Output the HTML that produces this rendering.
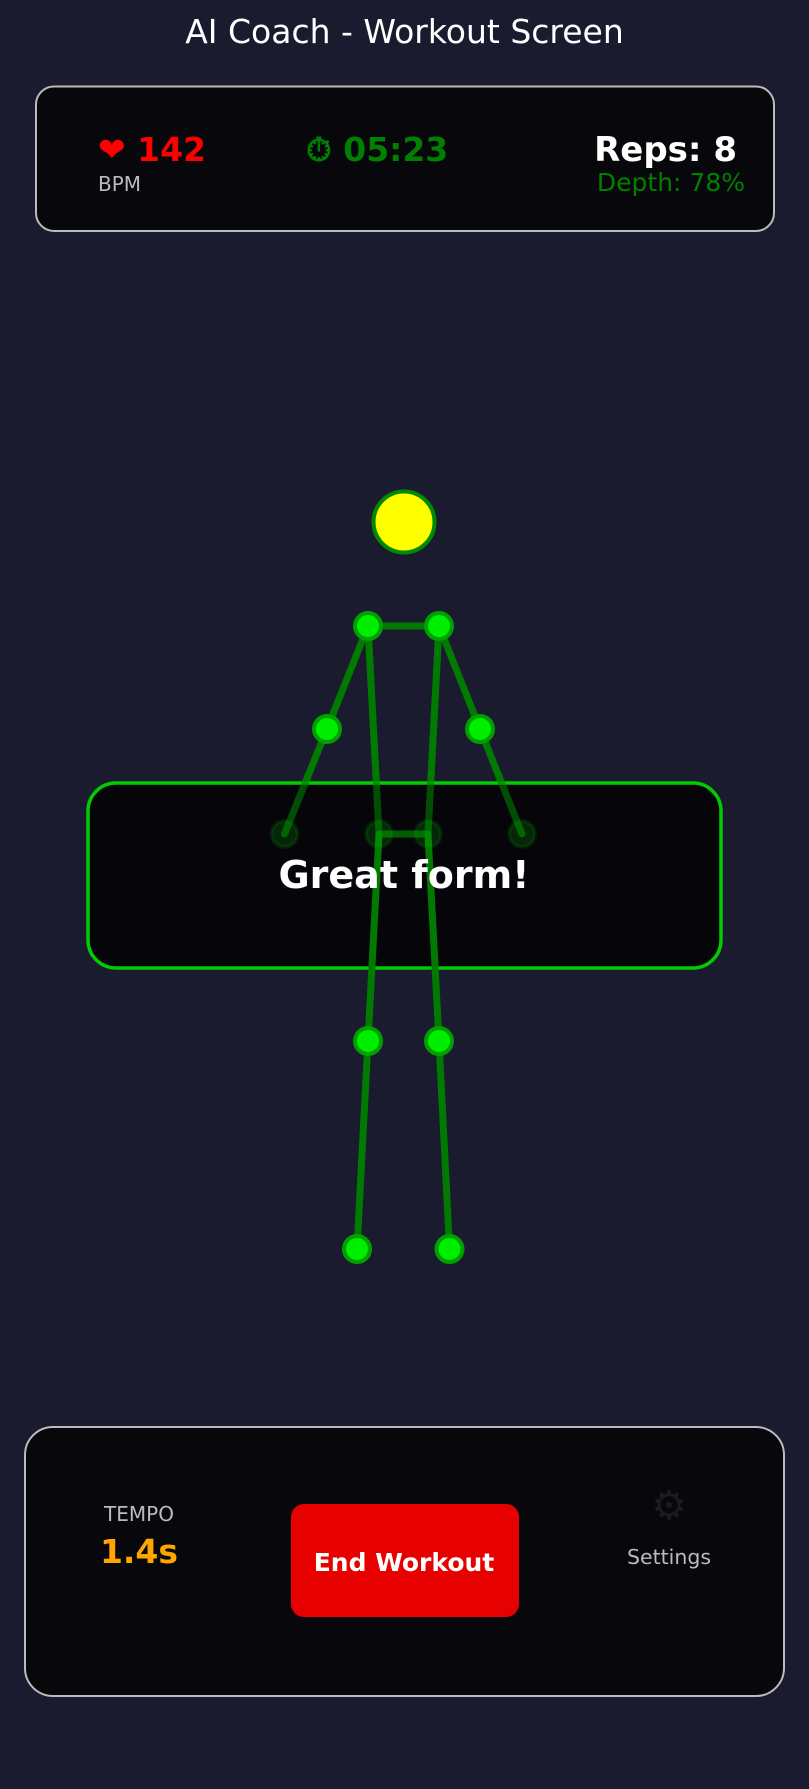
<!DOCTYPE html>
<html><head><meta charset="utf-8"><style>
html,body{margin:0;padding:0;background:#1a1b2e;}
body{width:809px;height:1785px;overflow:hidden;font-family:"DejaVu Sans","Liberation Sans",sans-serif;}
</style></head><body>
<svg width="809" height="1785" viewBox="0 0 809 1785" xmlns="http://www.w3.org/2000/svg" font-family="DejaVu Sans, Liberation Sans, sans-serif">
<rect width="809" height="1785" fill="#1a1b2e"/>
<text x="404.5" y="43" text-anchor="middle" font-size="33" fill="#ffffff">AI Coach - Workout Screen</text>
<g>
<rect x="36" y="86.5" width="738" height="144.5" rx="18" fill="#07070c" stroke="#bbbbbb" stroke-width="2"/>
<text x="98" y="161" font-size="33" font-weight="bold" fill="#ff0000">❤ 142</text>
<text x="98" y="191" font-size="20" fill="#bbbbbb">BPM</text>
<text x="306" y="161" font-size="33" font-weight="bold" fill="#008000">⏱ 05:23</text>
<text x="737" y="161" text-anchor="end" font-size="34" font-weight="bold" fill="#ffffff">Reps: 8</text>
<text x="745" y="191" text-anchor="end" font-size="25" fill="#008000">Depth: 78%</text>
</g>
<g stroke="#007a00" stroke-width="7" stroke-linecap="round">
<line x1="368" y1="626" x2="439" y2="626"/>
<line x1="368" y1="626" x2="327" y2="729"/>
<line x1="327" y1="729" x2="284.5" y2="834"/>
<line x1="439" y1="626" x2="480" y2="729"/>
<line x1="480" y1="729" x2="522" y2="834"/>
<line x1="368" y1="626" x2="379" y2="834"/>
<line x1="439" y1="626" x2="428" y2="834"/>
</g>
<g>
<rect x="88" y="783" width="633" height="185" rx="28" fill="#040308" fill-opacity="0.92" stroke="#00cc00" stroke-width="3.5"/>
</g>
<g stroke="#007a00" stroke-width="7" stroke-linecap="round">
<line x1="379" y1="834" x2="428" y2="834" stroke-opacity="0.75"/>
<line x1="379" y1="834" x2="368" y2="1041"/>
<line x1="368" y1="1041" x2="357" y2="1249"/>
<line x1="428" y1="834" x2="439" y2="1041"/>
<line x1="439" y1="1041" x2="449.5" y2="1249"/>
<line x1="368" y1="626" x2="379" y2="834" stroke-opacity="0.6"/>
<line x1="439" y1="626" x2="428" y2="834" stroke-opacity="0.6"/>
<line x1="327" y1="729" x2="284.5" y2="834" stroke-opacity="0.6"/>
<line x1="480" y1="729" x2="522" y2="834" stroke-opacity="0.6"/>
</g>
<g fill="#00ee00" stroke="#00a000" stroke-width="4">
<circle cx="368" cy="626" r="13"/>
<circle cx="439" cy="626" r="13"/>
<circle cx="327" cy="729" r="13"/>
<circle cx="480" cy="729" r="13"/>
<circle cx="284.5" cy="834" r="13" fill-opacity="0.15" stroke-opacity="0.15"/>
<circle cx="522" cy="834" r="13" fill-opacity="0.15" stroke-opacity="0.15"/>
<circle cx="379" cy="834" r="13" fill-opacity="0.15" stroke-opacity="0.15"/>
<circle cx="428" cy="834" r="13" fill-opacity="0.15" stroke-opacity="0.15"/>
<circle cx="368" cy="1041" r="13"/>
<circle cx="439" cy="1041" r="13"/>
<circle cx="357" cy="1249" r="13"/>
<circle cx="449.5" cy="1249" r="13"/>
</g>
<circle cx="404" cy="522" r="30.5" fill="#ffff00" stroke="#008a00" stroke-width="4"/>
<text x="404" y="888" text-anchor="middle" font-size="38" font-weight="bold" fill="#ffffff">Great form!</text>
<g>
<rect x="25" y="1427" width="759" height="269" rx="28" fill="#07070c" stroke="#bbbbbb" stroke-width="2"/>
<text x="139" y="1521" text-anchor="middle" font-size="20" fill="#bbbbbb">TEMPO</text>
<text x="139" y="1563" text-anchor="middle" font-size="33" font-weight="bold" fill="#ffa500">1.4s</text>
<g>
<rect x="291" y="1504" width="228" height="113" rx="13" fill="#e60000"/>
<text x="404" y="1571" text-anchor="middle" font-size="25" font-weight="bold" fill="#ffffff">End Workout</text>
</g>
<g>
<text x="669" y="1519" text-anchor="middle" font-size="40" fill="#1c1c1c">⚙</text>
<text x="669" y="1564" text-anchor="middle" font-size="20.5" fill="#bbbbbb">Settings</text>
</g>
</g>
</svg>
</body></html>
